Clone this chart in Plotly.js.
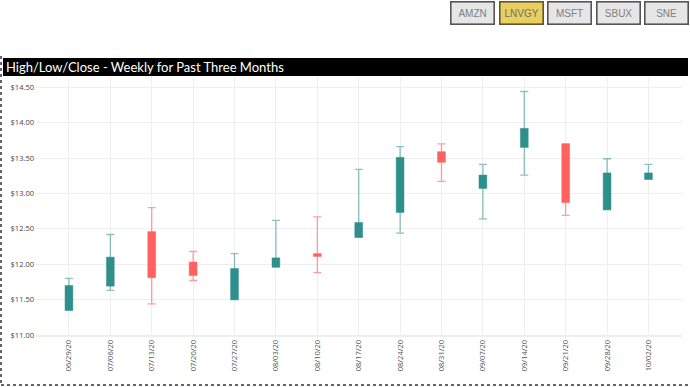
<!DOCTYPE html>
<html>
<head>
<meta charset="utf-8">
<script src="https://cdn.plot.ly/plotly-3.0.1.min.js"></script>
<style>
  html, body { margin: 0; padding: 0; background: #ffffff; }
  #chart { width: 690px; height: 387px; }
</style>
</head>
<body>
<div id="chart"></div>
<script>
// ---- data ----
var weeks  = ["06/29/20","07/06/20","07/13/20","07/20/20","07/27/20","08/03/20","08/10/20","08/17/20","08/24/20","08/31/20","09/07/20","09/14/20","09/21/20","09/28/20","10/02/20"];
var open   = [11.35, 11.69, 12.46, 12.03, 11.50, 11.96, 12.15, 12.38, 12.73, 13.59, 13.07, 13.65, 13.70, 12.77, 13.20];
var high   = [11.80, 12.42, 12.80, 12.18, 12.15, 12.62, 12.67, 13.34, 13.66, 13.70, 13.41, 14.44, 13.70, 13.49, 13.41];
var low    = [11.35, 11.63, 11.44, 11.77, 11.50, 11.96, 11.88, 12.38, 12.44, 13.17, 12.64, 13.26, 12.69, 12.77, 13.20];
var close  = [11.70, 12.10, 11.81, 11.84, 11.94, 12.09, 12.11, 12.59, 13.51, 13.44, 13.26, 13.92, 12.87, 13.29, 13.29];
var tickers = ["AMZN", "LNVGY", "MSFT", "SBUX", "SNE"];
var activeTicker = "LNVGY";

var UP = "#2f8f8d", DOWN = "#ff6161";
var UP_W = "rgba(47,143,141,0.55)", DOWN_W = "rgba(255,97,97,0.6)";

var isUp = close.map(function (c, i) { return c >= open[i]; });
function pick(arr, want) { return arr.map(function (v, i) { return isUp[i] === want ? v : null; }); }
function spanMinus(want) { return high.map(function (h, i) { return isUp[i] === want ? h - low[i] : null; }); }
function zeros(want) { return high.map(function (h, i) { return isUp[i] === want ? 0 : null; }); }

var whiskerUp = {
  type: "bar", x: weeks, y: pick(high, true), width: 0.19,
  marker: { color: "rgba(0,0,0,0)" },
  error_y: { type: "data", symmetric: false, array: zeros(true), arrayminus: spanMinus(true),
             color: UP_W, thickness: 1.3, width: 4 },
  hoverinfo: "skip", showlegend: false
};
var whiskerDown = {
  type: "bar", x: weeks, y: pick(high, false), width: 0.19,
  marker: { color: "rgba(0,0,0,0)" },
  error_y: { type: "data", symmetric: false, array: zeros(false), arrayminus: spanMinus(false),
             color: DOWN_W, thickness: 1.3, width: 4 },
  hoverinfo: "skip", showlegend: false
};
var bodies = {
  type: "bar", x: weeks,
  base: open.map(function (o, i) { return Math.min(o, close[i]); }),
  y: open.map(function (o, i) { return Math.abs(close[i] - o); }),
  width: 0.19,
  marker: {
    color: isUp.map(function (u) { return u ? UP : DOWN; }),
    line: { color: isUp.map(function (u) { return u ? "rgba(47,143,141,0.45)" : "rgba(255,97,97,0.5)"; }), width: 1 }
  },
  customdata: high.map(function (h, i) { return [h, low[i], close[i]]; }),
  hovertemplate: "%{x}<br>High %{customdata[0]:$.2f}<br>Low %{customdata[1]:$.2f}<br>Close %{customdata[2]:$.2f}<extra></extra>",
  showlegend: false
};

// plot-area geometry helpers (px -> paper)
var W = 690, H = 387, ML = 35, MR = 8, MT = 77, MB = 52;
var PW = W - ML - MR, PH = H - MT - MB;
function px(x) { return (x - ML) / PW; }
function py(y) { return (H - MB - y) / PH; }

var btnCenters = [472.8, 521.2, 569.5, 618.0, 666.3];
var annotations = tickers.map(function (t, i) {
  var act = t === activeTicker;
  return {
    text: t, xref: "paper", yref: "paper", x: px(btnCenters[i]), y: py(13),
    xanchor: "center", yanchor: "middle", showarrow: false,
    width: 40, height: 19, borderpad: 1, borderwidth: 1.6,
    bordercolor: act ? "#5e5730" : "#555555",
    bgcolor: act ? "#e8cf60" : "#e6e6e6",
    font: { family: "Liberation Sans, Arial, sans-serif", size: 10, color: act ? "#707070" : "#808080" }
  };
});

var layout = {
  width: W, height: H,
  margin: { l: ML, r: MR, t: MT, b: MB, pad: 0 },
  paper_bgcolor: "#ffffff", plot_bgcolor: "#ffffff",
  barmode: "overlay",
  title: {
    text: "High/Low/Close - Weekly for Past Three Months",
    font: { family: "Lato, Noto Sans, sans-serif", size: 13, color: "#ffffff" },
    x: 6 / W, xanchor: "left", xref: "container",
    y: 1 - 67 / H, yanchor: "middle", yref: "container"
  },
  xaxis: {
    type: "category", range: [-0.82, 14.81], fixedrange: true,
    tickangle: -90, ticks: "", showgrid: true, gridcolor: "#efefef", gridwidth: 1,
    showline: true, linecolor: "#eeeeee", linewidth: 2, zeroline: false,
    tickfont: { family: "Open Sans, sans-serif", size: 7.5, color: "#555555" }
  },
  yaxis: {
    range: [11, 14.645], dtick: 0.5, tick0: 11, tickformat: "$.2f", fixedrange: true,
    ticks: "", showgrid: true, gridcolor: "#efefef", gridwidth: 1.2, zeroline: false,
    tickfont: { family: "Open Sans, sans-serif", size: 7.5, color: "#444444" }
  },
  shapes: [
    { type: "rect", xref: "paper", yref: "paper", layer: "below",
      x0: px(3), x1: px(688), y0: py(76), y1: py(58),
      fillcolor: "#000000", line: { width: 0 } },
    { type: "line", xref: "paper", yref: "paper", x0: px(1), x1: px(1), y0: py(56), y1: py(385),
      line: { color: "#333333", width: 1.5, dash: "dot" } },
    { type: "line", xref: "paper", yref: "paper", x0: px(1), x1: px(689), y0: py(385), y1: py(385),
      line: { color: "#333333", width: 1.5, dash: "dot" } }
  ],
  annotations: annotations,
  hovermode: "closest"
};

Plotly.newPlot("chart", [whiskerUp, whiskerDown, bodies], layout, { displayModeBar: false, responsive: false });
</script>
</body>
</html>
